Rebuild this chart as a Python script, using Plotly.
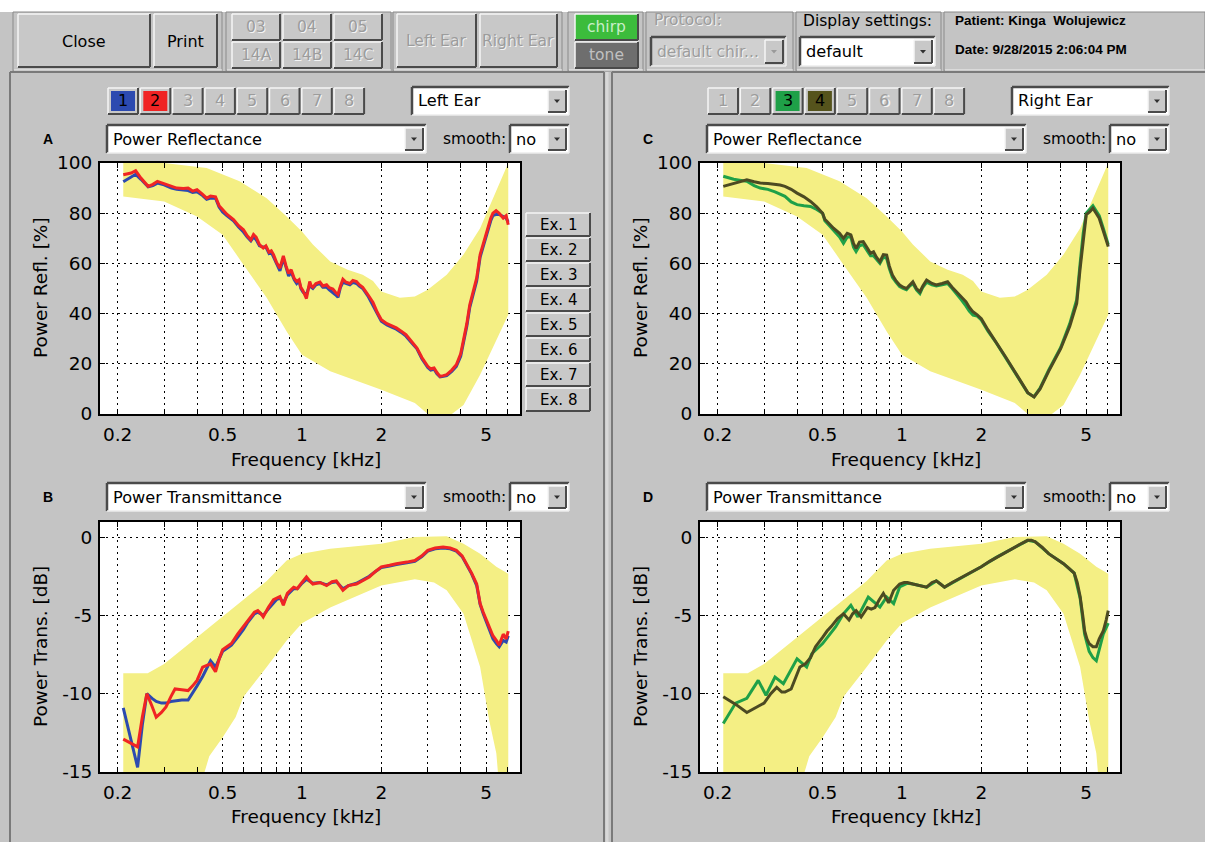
import plotly.graph_objects as go

W, H = 1205, 842
BG = "#c4c4c4"
YEL = "#f4ef84"
FONT = "DejaVu Sans, Verdana, sans-serif"
FONT_B = "Liberation Sans, Arial, sans-serif"

# ---------------- data ----------------
# normative band, power reflectance (%)
refl_up_f = [0.21, 0.30, 0.435, 0.58, 0.735, 0.875, 1.0, 1.1, 1.28, 1.49, 1.70, 1.86, 2.0, 2.35, 2.68, 3.0, 3.54, 4.1, 4.74, 5.46, 6.06]
refl_up_v = [100, 100, 98, 92.7, 86, 78.7, 72.7, 67.5, 60.8, 57.5, 55.5, 53, 48.8, 46.3, 46.8, 49.5, 55.5, 63.5, 74, 88.7, 100]
refl_lo_f = [0.21, 0.30, 0.40, 0.50, 0.60, 0.735, 0.875, 1.0, 1.28, 1.70, 2.0, 2.68, 3.0, 3.5, 4.1, 4.74, 5.46, 6.06]
refl_lo_v = [86.7, 84.7, 78.7, 71.4, 59.5, 46.3, 32.9, 23.6, 17, 12.4, 9.7, 4.4, 0, -2, 3.6, 15.6, 29, 39.5]

# normative band, power transmittance (dB)
trans_up_f = [0.21, 0.26, 0.30, 0.40, 0.50, 0.60, 0.735, 0.875, 1.0, 1.28, 2.0, 2.68, 3.54, 4.1, 4.74, 5.46, 6.06]
trans_up_v = [-8.7, -8.7, -8.1, -6.4, -5.1, -4.0, -2.8, -1.5, -1.06, -0.74, -0.43, 0.0, 0.05, -0.43, -1.06, -1.9, -2.34]
trans_lo_f = [0.21, 0.41, 0.445, 0.50, 0.56, 0.60, 0.735, 0.875, 1.0, 1.28, 1.70, 2.0, 2.68, 3.17, 3.54, 4.1, 4.74, 5.13, 5.46, 5.6, 6.06]
trans_lo_v = [-16, -16, -14.0, -12.8, -11.5, -10.2, -8.3, -6.6, -5.5, -4.5, -3.6, -3.1, -2.7, -2.9, -3.4, -4.9, -8.3, -11.7, -13.8, -16, -16]

# Left ear, power reflectance (A): measurements 1 (blue) and 2 (red)
A_f = [0.21, 0.225, 0.234, 0.245, 0.261, 0.272, 0.283, 0.30, 0.32, 0.335, 0.355, 0.37, 0.385, 0.40, 0.42, 0.435,
       0.45, 0.47, 0.485, 0.50, 0.52, 0.55, 0.575, 0.60, 0.62, 0.64, 0.655, 0.67, 0.69, 0.713, 0.73, 0.75, 0.765,
       0.78, 0.80, 0.825, 0.84, 0.85, 0.87, 0.89, 0.91, 0.935, 0.955, 0.975, 0.99, 1.01, 1.04, 1.055, 1.07, 1.085,
       1.1, 1.13, 1.17, 1.2, 1.24, 1.27, 1.31, 1.34, 1.37, 1.40, 1.43, 1.47, 1.52, 1.56, 1.61, 1.65, 1.70, 1.78,
       1.86, 1.93, 2.0, 2.1, 2.2, 2.28, 2.38, 2.48, 2.6, 2.73, 2.85, 3.0, 3.08, 3.17, 3.25, 3.34, 3.44, 3.54, 3.7,
       3.85, 4.0, 4.1, 4.22, 4.33, 4.45, 4.6, 4.74, 4.9, 5.09, 5.2, 5.3, 5.45, 5.6, 5.8, 5.95, 6.06]
A_red = [95.3, 96.0, 96.9, 94, 90.7, 91.5, 92.7, 91.8, 90.5, 90, 89.8, 90, 88.8, 89.4, 87.5, 86,
         86.8, 86.5, 83, 81.4, 79.5, 77.5, 75, 73.4, 71, 69.4, 71.5, 70.5, 67.5, 66.1, 67, 64.5, 65,
         63.5, 60.5, 58.1, 61, 63, 59, 56, 57.5, 54, 52.8, 53.5, 50.5, 49, 46, 50, 52.8, 51,
         50.5, 52, 52.6, 51, 51.5, 50.3, 49.8, 48.5, 47.6, 51, 53.7, 52.5, 52.0, 53.2, 52.8, 51.5, 50.5, 47.5,
         44.4, 40.5, 37.6, 36, 35, 34.3, 33, 31.6, 29, 26.3, 22.5, 19, 18, 18.3, 16.5, 15, 15.3, 15.7, 17.5,
         19.6, 24, 29, 36, 43.5, 48, 54.2, 63.5, 69, 75.4, 78, 80, 81, 80, 78, 79, 75.4]
A_blue = [92.5, 94.5, 95.5, 93.5, 90.5, 91, 92, 91.3, 90, 89.5, 89.2, 89, 88.3, 88.5, 87, 85.5,
          86, 86, 82.5, 80.5, 79, 77, 74.5, 72.5, 70.5, 69, 70.5, 69.5, 67, 66.5, 66.5, 64, 64.5,
          62.5, 60, 57, 60, 62, 58.5, 55, 56.5, 53.5, 52, 53, 50, 48.5, 47.5, 49.5, 51.5, 50.5,
          50, 51.5, 52, 50.5, 50.5, 49.5, 48.5, 47.5, 46.5, 50.5, 52.5, 52, 51.5, 52.5, 52, 51, 50, 47,
          43.5, 40, 37, 35.5, 34.5, 33.8, 32.5, 31, 28.5, 26, 22, 18.5, 17.5, 17.8, 16, 14.8, 15, 15.3, 17,
          19, 23, 28, 35, 42.5, 47, 53, 62.5, 68, 74.5, 77, 79, 79.5, 79.5, 78.5, 78, 76.5]

# Left ear, power transmittance (B)
B_f = [0.21, 0.225, 0.238, 0.248, 0.258, 0.27, 0.28, 0.293, 0.305, 0.318, 0.33, 0.35, 0.37, 0.385, 0.40, 0.42,
       0.435, 0.45, 0.47, 0.485, 0.50, 0.52, 0.54, 0.57, 0.60, 0.62, 0.64, 0.66, 0.68, 0.70, 0.713, 0.745, 0.78,
       0.80, 0.825, 0.85, 0.88, 0.93, 0.96, 1.0, 1.04, 1.07, 1.1, 1.17, 1.24, 1.3, 1.35, 1.43, 1.5, 1.61, 1.7,
       1.8, 1.9, 2.0, 2.15, 2.28, 2.5, 2.68, 2.85, 3.0, 3.2, 3.43, 3.65, 3.85, 4.05, 4.22, 4.4, 4.6, 4.74, 4.87,
       5.0, 5.1, 5.2, 5.3, 5.46, 5.6, 5.8, 5.95, 6.06]
B_red = [-12.9, -13.2, -13.4, -11.5, -10.0, -10.8, -11.5, -11.2, -10.85, -10.2, -9.7, -9.75, -9.8, -9.5, -9.15,
         -8.3, -8.2, -8.1, -8.6, -7.8, -7.2, -7.0, -6.8, -6.2, -5.7, -5.4, -5.1, -4.8, -4.7, -4.9, -5.1, -4.5, -4.0,
         -3.9, -3.8, -4.35, -3.6, -3.2, -3.3, -2.9, -2.55, -2.8, -3.0, -2.9, -3.1, -2.85, -2.8, -3.4, -3.1, -3.0,
         -2.8, -2.55, -2.2, -1.9, -1.8, -1.7, -1.6, -1.5, -1.2, -0.85, -0.7, -0.64, -0.7, -0.85, -1.2, -1.7, -2.3,
         -3.0, -4.25, -4.8, -5.3, -5.6, -5.95, -6.3, -6.6, -6.9, -6.2, -6.5, -6.0]
B_blue = [-10.9, -13.0, -14.7, -12.0, -10.0, -10.3, -10.5, -10.6, -10.6, -10.5, -10.45, -10.4, -10.4, -9.9, -9.5,
          -8.9, -8.4, -7.9, -8.3, -7.8, -7.3, -7.1, -6.9, -6.4, -5.9, -5.5, -5.2, -4.9, -4.8, -4.9, -5.0, -4.6, -4.2,
          -4.0, -3.9, -4.2, -3.7, -3.3, -3.3, -2.95, -2.7, -2.85, -2.95, -2.9, -3.05, -2.9, -2.85, -3.3, -3.1, -2.95,
          -2.75, -2.5, -2.2, -1.95, -1.85, -1.75, -1.65, -1.55, -1.25, -0.9, -0.75, -0.7, -0.75, -0.9, -1.25, -1.75,
          -2.35, -3.1, -4.3, -4.9, -5.4, -5.8, -6.2, -6.5, -6.8, -7.0, -6.6, -6.7, -6.3]

# Right ear, power reflectance (C): measurements 3 (green) and 4 (olive)
C_f = [0.21, 0.23, 0.258, 0.275, 0.29, 0.31, 0.33, 0.345, 0.36, 0.38, 0.40, 0.425, 0.45, 0.475, 0.50, 0.51, 0.52,
       0.55, 0.58, 0.60, 0.62, 0.64, 0.655, 0.67, 0.69, 0.713, 0.74, 0.76, 0.78, 0.80, 0.825, 0.85, 0.875, 0.895,
       0.92, 0.95, 0.98, 1.01, 1.04, 1.07, 1.1, 1.135, 1.17, 1.2, 1.24, 1.3, 1.35, 1.42, 1.49, 1.55, 1.61, 1.68,
       1.75, 1.8, 1.86, 1.93, 2.0, 2.12, 2.28, 2.48, 2.73, 3.0, 3.17, 3.34, 3.6, 4.0, 4.33, 4.6, 4.74, 4.87, 5.0,
       5.15, 5.3, 5.45, 5.6, 5.8, 6.06]
C_olive = [90.7, 91.8, 93.3, 92.5, 92, 91.8, 91.5, 91.2, 90.7, 89.5, 88, 86.5, 84.7, 82.5, 80, 77.5, 76.7,
           74, 72, 70, 72, 71.4, 68, 66, 68.5, 68.7, 66, 64, 64.6, 62.5, 60.7, 63.5, 63.3, 59,
           55.4, 53, 51.4, 50.5, 50, 51.5, 52.7, 50, 48.7, 51, 53.4, 52, 51.4, 52, 52.7, 50.5, 48.7, 46.5,
           44.7, 42.5, 40.7, 39.5, 38, 33.5, 28.5, 22.5, 15.5, 8.5, 6.8, 10, 17, 26, 35, 44, 58, 70, 79.4,
           80.5, 82, 80, 78, 73, 66.7]
C_green = [94.7, 93.5, 92.7, 91, 90, 89.5, 88.5, 87.5, 86.7, 84.5, 83.4, 83, 82.7, 81.5, 80, 77, 76,
           73, 70.5, 68, 70.5, 70.5, 66.5, 64.7, 67, 67.5, 65, 63, 63, 61.5, 60, 62.5, 62, 58,
           54.5, 52.5, 50.8, 50, 49.5, 51, 52, 49.5, 48, 50.5, 52.5, 51.5, 51, 51.5, 52, 50, 48, 45.5,
           43, 41, 39.4, 39, 37.5, 33, 28.3, 22.3, 15.3, 8.4, 6.9, 10.3, 17.5, 26.5, 36, 45.5, 60, 72, 80,
           81.5, 83, 81, 79, 74, 67.5]

# Right ear, power transmittance (D)
D_f = [0.21, 0.235, 0.258, 0.27, 0.285, 0.3, 0.318, 0.335, 0.35, 0.36, 0.38, 0.41, 0.43, 0.45, 0.47, 0.50, 0.52,
       0.54, 0.57, 0.60, 0.615, 0.63, 0.65, 0.67, 0.685, 0.70, 0.72, 0.74, 0.765, 0.79, 0.82, 0.85, 0.87, 0.89,
       0.93, 0.98, 1.02, 1.05, 1.1, 1.17, 1.24, 1.3, 1.35, 1.4, 1.45, 1.55, 1.70, 1.85, 2.0, 2.15, 2.28, 2.5,
       2.68, 2.85, 3.0, 3.1, 3.2, 3.4, 3.6, 3.85, 4.1, 4.3, 4.5, 4.62, 4.74, 4.85, 4.93, 5.03, 5.13, 5.3, 5.46,
       5.6, 5.8, 5.95, 6.06]
D_olive = [-10.2, -10.7, -11.2, -11.0, -10.8, -10.6, -10.0, -9.6, -9.9, -9.9, -9.7, -8.3, -8.1, -7.7, -7.0, -6.4,
           -6.0, -5.7, -5.2, -4.9, -5.1, -5.3, -4.9, -4.7, -4.9, -5.1, -4.8, -4.5, -4.6, -4.5, -4.0, -3.6, -3.9,
           -4.2, -3.4, -3.0, -2.9, -2.9, -3.0, -3.1, -3.2, -2.9, -2.8, -3.0, -3.2, -2.9, -2.55, -2.2, -1.9, -1.55,
           -1.3, -0.95, -0.64, -0.4, -0.21, -0.2, -0.3, -0.65, -1.06, -1.4, -1.7, -2.0, -2.3, -2.9, -3.8, -5.0,
           -6.0, -6.5, -6.8, -7.0, -7.0, -6.5, -6.0, -5.3, -4.7]
D_green_f = [0.21, 0.234, 0.258, 0.285, 0.305, 0.33, 0.355, 0.40, 0.435, 0.455, 0.50, 0.56, 0.60, 0.64, 0.68,
             0.745, 0.825, 0.875, 0.93, 0.98, 1.05, 1.1, 1.24, 1.35, 1.45, 1.70, 2.0, 2.28, 2.68, 3.0, 3.2, 3.6,
             4.1, 4.5, 4.74, 4.93, 5.13, 5.3, 5.46, 5.8, 6.06]
D_green = [-11.9, -10.6, -10.3, -9.15, -10.1, -8.94, -9.36, -7.77, -8.3, -7.45, -6.8, -5.74, -4.9, -4.36, -5.1,
           -3.83, -4.47, -3.83, -4.25, -3.19, -2.95, -3.0, -3.2, -2.8, -3.2, -2.55, -1.9, -1.3, -0.64, -0.21, -0.3,
           -1.06, -1.7, -2.3, -3.9, -6.2, -7.3, -7.7, -7.9, -6.2, -5.5]

x_tickvals = [0.2, 0.3, 0.4, 0.5, 0.6, 0.7, 0.8, 0.9, 1, 2, 3, 4, 5, 6]
x_ticktext = ["0.2", "", "", "0.5", "", "", "", "", "1", "2", "", "", "5", ""]
refl_ticks = [0, 20, 40, 60, 80, 100]
refl_ticktext = ["0", "20", "40", "60", "80", "100"]
trans_ticks = [-15, -10, -5, 0]
trans_ticktext = ["-15", "-10", "-5", "0"]

BLUE, RED, GREEN, OLIVE = "#2c4ab0", "#f02424", "#1fa048", "#4c4a22"
AX_FS = 18.5
UI_FS = 15.5
DD_FS = 16.2

# ---------------- figure ----------------
fig = go.Figure()

XL, XR = (100, 520), (700, 1120)
YT, YB = (163, 414), (522, 772)


def band(xa, ya, lf, lv, uf, uv):
    fig.add_trace(go.Scatter(x=lf, y=lv, xaxis=xa, yaxis=ya, mode="lines", line=dict(width=0, color=YEL),
                             hoverinfo="skip", showlegend=False))
    fig.add_trace(go.Scatter(x=uf, y=uv, xaxis=xa, yaxis=ya, mode="lines", line=dict(width=0, color=YEL),
                             fill="tonexty", fillcolor=YEL, hoverinfo="skip", showlegend=False))


def curve(xa, ya, f, v, c, w=3):
    fig.add_trace(go.Scatter(x=f, y=v, xaxis=xa, yaxis=ya, mode="lines", line=dict(width=w, color=c),
                             showlegend=False))


band("x", "y", refl_lo_f, refl_lo_v, refl_up_f, refl_up_v)
curve("x", "y", A_f, A_blue, BLUE)
curve("x", "y", A_f, A_red, RED)
band("x2", "y2", trans_lo_f, trans_lo_v, trans_up_f, trans_up_v)
curve("x2", "y2", B_f, B_blue, BLUE)
curve("x2", "y2", B_f, B_red, RED)
band("x3", "y3", refl_lo_f, refl_lo_v, refl_up_f, refl_up_v)
curve("x3", "y3", C_f, C_green, GREEN)
curve("x3", "y3", C_f, C_olive, OLIVE)
band("x4", "y4", trans_lo_f, trans_lo_v, trans_up_f, trans_up_v)
curve("x4", "y4", D_green_f, D_green, GREEN)
curve("x4", "y4", D_f, D_olive, OLIVE)


def xaxis(px, anchor):
    return dict(type="log", range=[-0.766, 0.827], domain=[px[0] / W, px[1] / W], anchor=anchor,
                tickvals=x_tickvals, ticktext=x_ticktext, ticks="inside", ticklen=5, tickcolor="black",
                showline=True, linecolor="black", linewidth=1.8, mirror="ticks", automargin=False,
                showgrid=True, gridcolor="black", griddash="2px,4px", gridwidth=1, zeroline=False,
                tickfont=dict(family=FONT, size=AX_FS, color="black"), ticklabelstandoff=3, fixedrange=True)


def yaxis(py, anchor, rng, ticks, ticktext):
    return dict(range=rng, domain=[1 - py[1] / H, 1 - py[0] / H], anchor=anchor, tickvals=ticks,
                ticktext=ticktext, ticks="inside", ticklen=5, tickcolor="black", showline=True,
                linecolor="black", linewidth=1.8, mirror="ticks", showgrid=True, gridcolor="black",
                griddash="2px,4px", gridwidth=1, automargin=False, zeroline=False,
                tickfont=dict(family=FONT, size=AX_FS, color="black"), ticklabelstandoff=2, fixedrange=True)


fig.update_layout(
    xaxis=xaxis(XL, "y"), yaxis=yaxis(YT, "x", [0, 100], refl_ticks, refl_ticktext),
    xaxis2=xaxis(XL, "y2"), yaxis2=yaxis(YB, "x2", [-15, 0.96], trans_ticks, trans_ticktext),
    xaxis3=xaxis(XR, "y3"), yaxis3=yaxis(YT, "x3", [0, 100], refl_ticks, refl_ticktext),
    xaxis4=xaxis(XR, "y4"), yaxis4=yaxis(YB, "x4", [-15, 0.96], trans_ticks, trans_ticktext),
)

# ---------------- GUI widgets ----------------
shapes, annots = [], []


def rect(x0, y0, x1, y1, fill, lc=None, lw=0):
    shapes.append(dict(type="rect", xref="paper", yref="paper", x0=x0 / W, x1=x1 / W, y0=1 - y1 / H,
                       y1=1 - y0 / H, fillcolor=fill, line=dict(color=lc or fill, width=lw), layer="above"))


def seg(x0, y0, x1, y1, c, w=1):
    shapes.append(dict(type="line", xref="paper", yref="paper", x0=x0 / W, x1=x1 / W, y0=1 - y0 / H,
                       y1=1 - y1 / H, line=dict(color=c, width=w), layer="above"))


def text(x, y, s, size=UI_FS, color="black", xanchor="center", bold=False, angle=0, family=FONT):
    annots.append(dict(xref="paper", yref="paper", x=x / W, y=1 - y / H, text=f"<b>{s}</b>" if bold else s,
                       showarrow=False, xanchor=xanchor, yanchor="middle", textangle=angle,
                       font=dict(family=family, size=size, color=color)))


def dtext(x, y, s, size=UI_FS, xanchor="center"):
    text(x + 1, y + 1, s, size, "#f4f4f4", xanchor)
    text(x, y, s, size, "#9c9c9c", xanchor)


def raised(x0, y0, x1, y1, fill="#c8c8c8"):
    rect(x0, y0, x1, y1, fill)
    seg(x0, y0, x1, y0, "#f6f6f6", 1.5)
    seg(x0, y0, x0, y1, "#f6f6f6", 1.5)
    seg(x0, y1, x1, y1, "#4a4a4a", 2)
    seg(x1, y0, x1, y1, "#4a4a4a", 2)


def sunken(x0, y0, x1, y1, fill="white"):
    rect(x0, y0, x1, y1, fill)
    seg(x0, y0, x1, y0, "#4a4a4a", 2.5)
    seg(x0, y0, x0, y1, "#4a4a4a", 2.5)
    seg(x0, y1, x1, y1, "#ececec", 1.5)
    seg(x1, y0, x1, y1, "#ececec", 1.5)


def dropdown(x0, y0, x1, y1, label, fill="white", disabled=False, size=DD_FS):
    sunken(x0, y0, x1, y1, fill)
    raised(x1 - 21, y0 + 3, x1 - 3, y1 - 3)
    cx, cy = x1 - 12, (y0 + y1) / 2
    shapes.append(dict(type="path", xref="paper", yref="paper", layer="above",
                       path=f"M {(cx - 3) / W},{1 - (cy - 1.5) / H} L {(cx + 3) / W},{1 - (cy - 1.5) / H} "
                            f"L {cx / W},{1 - (cy + 2) / H} Z",
                       fillcolor="#9a9a9a" if disabled else "#303030", line=dict(width=0)))
    if disabled:
        dtext(x0 + 4, cy, label, size, "left")
    else:
        text(x0 + 4, cy, label, size, "black", "left")


# top white strip
rect(0, 0, W, 12, "#ffffff")

# toolbar group frames
for g0, g1 in [(13, 222), (226, 391), (393, 562), (568, 643), (646, 793), (796, 941), (944, 1205)]:
    rect(g0, 12, g1, 71, BG, "#8a8a8a", 1)
    seg(g0 + 1, 70, g1, 70, "#f0f0f0", 1)

raised(18, 14, 150, 67)
text(84, 41, "Close", 16)
raised(154, 14, 217, 67)
text(185, 41, "Print", 16)
for i, lab in enumerate(["03", "04", "05"]):
    raised(232 + i * 51, 14, 280 + i * 51, 40)
    dtext(256 + i * 51, 27, lab)
for i, lab in enumerate(["14A", "14B", "14C"]):
    raised(232 + i * 51, 42, 280 + i * 51, 68)
    dtext(256 + i * 51, 55, lab)
raised(397, 14, 476, 67)
dtext(436, 41, "Left Ear")
raised(480, 14, 557, 67)
dtext(518, 41, "Right Ear")
raised(575, 14, 638, 40, "#3cbc3c")
text(606, 27, "chirp", UI_FS, "#c8eec8")
raised(575, 42, 638, 68, "#6e6e6e")
text(606, 55, "tone", UI_FS, "#c0c0c0")
dtext(652, 20, "Protocol:", UI_FS, "left")
dropdown(651, 37, 786, 66, "default chir...", fill="#d0d0d0", disabled=True, size=UI_FS)
text(801, 21, "Display settings:", UI_FS, "black", "left")
dropdown(800, 37, 935, 66, "default")
text(953, 21, "Patient: Kinga  Wolujewicz", 13.5, "black", "left", bold=True, family=FONT_B)
text(953, 50, "Date: 9/28/2015 2:06:04 PM", 13.5, "black", "left", bold=True, family=FONT_B)

# panel frames
seg(10, 72, 604, 72, "#7a7a7a", 2)
seg(612, 72, W, 72, "#7a7a7a", 2)
seg(10, 72, 10, H, "#7a7a7a", 2)
seg(604, 72, 604, H, "#7a7a7a", 2)
seg(612, 72, 612, H, "#7a7a7a", 2)
seg(607, 72, 607, H, "#d8d8d8", 3)

# per-panel controls
colors_left = {0: BLUE, 1: RED}
colors_right = {2: GREEN, 3: "#55531c"}
for off, active, ear, letters in [(0, colors_left, "Left Ear", ("A", "B")),
                                  (600, colors_right, "Right Ear", ("C", "D"))]:
    for i in range(8):
        x0 = 108 + off + i * 32.3
        raised(x0, 88, x0 + 30, 114)
        if i in active:
            rect(x0 + 3, 91, x0 + 27, 111, active[i])
            text(x0 + 15, 101, str(i + 1), 16, "black")
        else:
            dtext(x0 + 15, 101, str(i + 1), 16)
    dropdown(412 + off, 87, 569 + off, 115, ear)
    for j, (ytop, name) in enumerate([(125, "Power Reflectance"), (483, "Power Transmittance")]):
        text(48 + off, ytop + 14, letters[j], 14, "black", bold=True, family=FONT_B)
        dropdown(107 + off, ytop, 426 + off, ytop + 28, name)
        text(508 + off, ytop + 14, "smooth:", UI_FS, "black", "right")
        dropdown(510 + off, ytop, 569 + off, ytop + 28, "no")
    text(40 + off, 288, "Power Refl. [%]", AX_FS, "black", angle=-90)
    text(40 + off, 647, "Power Trans. [dB]", AX_FS, "black", angle=-90)
    text(306 + off, 459, "Frequency [kHz]", AX_FS)
    text(306 + off, 816, "Frequency [kHz]", AX_FS)

for k in range(8):
    y0 = 213 + k * 25
    raised(526, y0, 590, y0 + 23)
    text(558, y0 + 12, f"Ex. {k + 1}", 15)

fig.update_layout(
    width=W, height=H, margin=dict(l=0, r=0, t=0, b=0, pad=0, autoexpand=False), autosize=False,
    paper_bgcolor=BG, plot_bgcolor="white", showlegend=False,
    shapes=shapes, annotations=annots, font=dict(family=FONT),
)

fig.write_html(
    "out.html", config={"displayModeBar": False},
    post_script=("document.documentElement.style.margin='0';document.body.style.margin='0';"
                 "document.body.style.padding='0';document.body.style.overflow='hidden';"
                 "var d=document.getElementById('{plot_id}');d.style.position='fixed';"
                 "d.style.left='0px';d.style.top='0px';"),
)
